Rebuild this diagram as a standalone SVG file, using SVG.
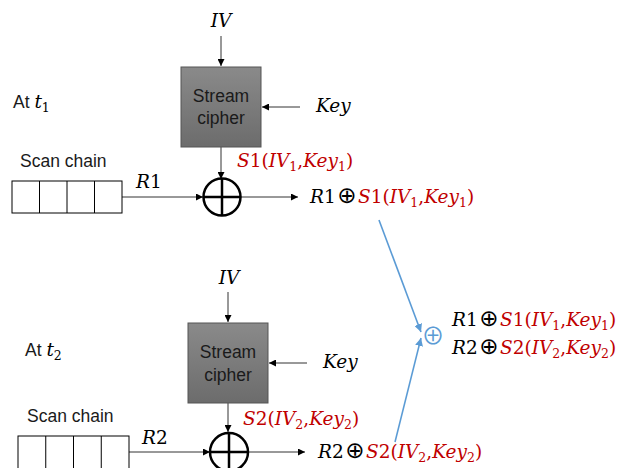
<svg xmlns="http://www.w3.org/2000/svg" width="622" height="468" viewBox="0 0 622 468">
<style>
.sans{font-family:"Liberation Sans","DejaVu Sans",sans-serif;font-size:17.5px;fill:#1a1a1a}
.m{font-family:"DejaVu Serif","Liberation Serif",serif;font-style:italic;font-size:18.5px;fill:#000}
.red{fill:#C00000}
.up{font-style:normal}
.op{font-family:"DejaVu Sans",sans-serif;font-style:normal;font-size:23px}
.sub{font-size:12.5px}
.ln{stroke:#333;stroke-width:1;fill:none}
.xor{stroke:#000;stroke-width:2.5;fill:none}
.box{fill:url(#g);stroke:#555;stroke-width:1}
.blue{stroke:#5B9BD5;stroke-width:1.6;fill:none}
</style>
<defs>
<linearGradient id="g" x1="0" y1="0" x2="0" y2="1">
<stop offset="0" stop-color="#8a8a8a"/>
<stop offset="1" stop-color="#6c6c6c"/>
</linearGradient>
<marker id="a" viewBox="0 0 10 10" refX="10" refY="5" markerWidth="7" markerHeight="7" markerUnits="userSpaceOnUse" orient="auto">
<path d="M0,0 L10,5 L0,10 z" fill="#000"/>
</marker>
<marker id="b" viewBox="0 0 10 10" refX="10" refY="5" markerWidth="8" markerHeight="8" markerUnits="userSpaceOnUse" orient="auto">
<path d="M0,0 L10,5 L0,10 z" fill="#5B9BD5"/>
</marker>
</defs>

<g id="connectors">
<line class="ln" x1="221" y1="36" x2="221" y2="66" marker-end="url(#a)"/>
<line class="ln" x1="300" y1="107" x2="262" y2="107" marker-end="url(#a)"/>
<line class="ln" x1="221" y1="147" x2="221" y2="179" marker-end="url(#a)"/>
<line class="ln" x1="122" y1="197" x2="203" y2="197" marker-end="url(#a)"/>
<line class="ln" x1="241" y1="197" x2="298" y2="197" marker-end="url(#a)"/>

<line class="ln" x1="228" y1="292" x2="228" y2="322" marker-end="url(#a)"/>
<line class="ln" x1="307" y1="363" x2="269" y2="363" marker-end="url(#a)"/>
<line class="ln" x1="228" y1="403" x2="228" y2="432" marker-end="url(#a)"/>
<line class="ln" x1="129" y1="452" x2="210" y2="452" marker-end="url(#a)"/>
<line class="ln" x1="248" y1="452" x2="305" y2="452" marker-end="url(#a)"/>

<line class="blue" x1="379" y1="220" x2="421" y2="332" marker-end="url(#b)"/>
<line class="blue" x1="395" y1="442" x2="421" y2="338" marker-end="url(#b)"/>
</g>

<g id="top-labels">
<text class="m" x="221" y="27" text-anchor="middle">IV</text>
<text class="m" x="316" y="112">Key</text>
<text class="sans" x="13" y="108">At <tspan class="m">t<tspan class="sub up" dy="4">1</tspan></tspan></text>
<text class="sans" x="20" y="167">Scan chain</text>
<text class="m" x="136" y="188">R<tspan class="up">1</tspan></text>
<text class="m red" x="237" y="167">S<tspan class="up">1(</tspan>IV<tspan class="sub up" dy="4">1</tspan><tspan class="up" dy="-4">,</tspan>Key<tspan class="sub up" dy="4">1</tspan><tspan class="up" dy="-4">)</tspan></text>
<text class="m" x="310" y="203">R<tspan class="up">1</tspan><tspan class="op" dx="1.5">⊕</tspan><tspan class="red" dx="1.5">S<tspan class="up">1(</tspan>IV<tspan class="sub up" dy="4">1</tspan><tspan class="up" dy="-4">,</tspan>Key<tspan class="sub up" dy="4">1</tspan><tspan class="up" dy="-4">)</tspan></tspan></text>
</g>

<g id="cipher1">
<rect class="box" x="181" y="67" width="80" height="80"/>
<text class="sans" x="221" y="102" text-anchor="middle">Stream</text>
<text class="sans" x="221" y="124" text-anchor="middle">cipher</text>
</g>
<g id="xor1">
<circle class="xor" cx="222" cy="197" r="18.5"/>
<line class="xor" x1="203.5" y1="197" x2="240.5" y2="197"/>
<line class="xor" x1="222" y1="178.5" x2="222" y2="215.5"/>
</g>
<g id="scan1">
<rect x="12" y="181" width="110" height="32" fill="#fff" stroke="#000" stroke-width="1"/>
<line x1="39.5" y1="181" x2="39.5" y2="213" stroke="#000"/>
<line x1="67" y1="181" x2="67" y2="213" stroke="#000"/>
<line x1="94.5" y1="181" x2="94.5" y2="213" stroke="#000"/>
</g>

<g id="bottom-labels">
<text class="m" x="229" y="284" text-anchor="middle">IV</text>
<text class="m" x="323" y="368">Key</text>
<text class="sans" x="25" y="356">At <tspan class="m">t<tspan class="sub up" dy="4">2</tspan></tspan></text>
<text class="sans" x="27" y="422">Scan chain</text>
<text class="m" x="142" y="444">R<tspan class="up">2</tspan></text>
<text class="m red" x="243" y="425">S<tspan class="up">2(</tspan>IV<tspan class="sub up" dy="4">2</tspan><tspan class="up" dy="-4">,</tspan>Key<tspan class="sub up" dy="4">2</tspan><tspan class="up" dy="-4">)</tspan></text>
<text class="m" x="318" y="458">R<tspan class="up">2</tspan><tspan class="op" dx="1.5">⊕</tspan><tspan class="red" dx="1.5">S<tspan class="up">2(</tspan>IV<tspan class="sub up" dy="4">2</tspan><tspan class="up" dy="-4">,</tspan>Key<tspan class="sub up" dy="4">2</tspan><tspan class="up" dy="-4">)</tspan></tspan></text>
</g>

<g id="cipher2">
<rect class="box" x="188" y="323" width="80" height="80"/>
<text class="sans" x="228" y="358" text-anchor="middle">Stream</text>
<text class="sans" x="228" y="381" text-anchor="middle">cipher</text>
</g>
<g id="xor2">
<circle class="xor" cx="229" cy="452" r="19"/>
<line class="xor" x1="210" y1="452" x2="248" y2="452"/>
<line class="xor" x1="229" y1="433" x2="229" y2="471"/>
</g>
<g id="scan2">
<rect x="18" y="436" width="111" height="40" fill="#fff" stroke="#000" stroke-width="1"/>
<line x1="45.75" y1="436" x2="45.75" y2="476" stroke="#000"/>
<line x1="73.5" y1="436" x2="73.5" y2="476" stroke="#000"/>
<line x1="101.25" y1="436" x2="101.25" y2="476" stroke="#000"/>
</g>

<g id="combined">
<text x="433" y="343.5" text-anchor="middle" font-family="Noto Sans CJK JP,DejaVu Sans,sans-serif" font-size="23" fill="#5B9BD5">⊕</text>
<text class="m" x="452" y="326">R<tspan class="up">1</tspan><tspan class="op" dx="1.5">⊕</tspan><tspan class="red" dx="1.5">S<tspan class="up">1(</tspan>IV<tspan class="sub up" dy="4">1</tspan><tspan class="up" dy="-4">,</tspan>Key<tspan class="sub up" dy="4">1</tspan><tspan class="up" dy="-4">)</tspan></tspan></text>
<text class="m" x="452" y="354">R<tspan class="up">2</tspan><tspan class="op" dx="1.5">⊕</tspan><tspan class="red" dx="1.5">S<tspan class="up">2(</tspan>IV<tspan class="sub up" dy="4">2</tspan><tspan class="up" dy="-4">,</tspan>Key<tspan class="sub up" dy="4">2</tspan><tspan class="up" dy="-4">)</tspan></tspan></text>
</g>
</svg>
